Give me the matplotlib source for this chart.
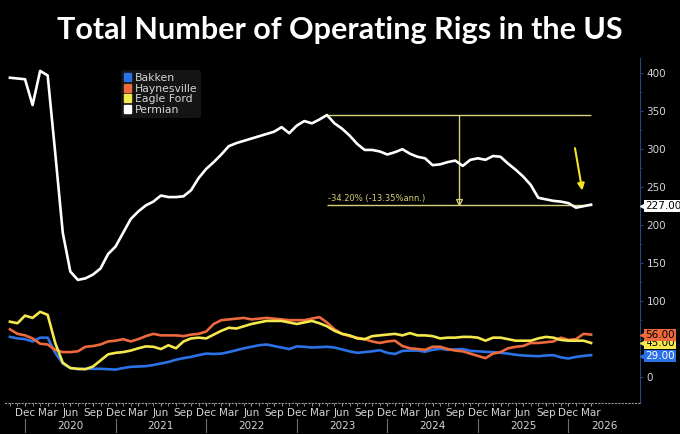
import matplotlib
matplotlib.use('Agg')
import matplotlib.pyplot as plt
from matplotlib.patches import Patch
import numpy as np

# month index: 0 = Dec 2019, data runs Oct 2019 .. Mar 2026
months = np.arange(-2, 76)

permian = [394, 393, 392, 358, 403, 397, 295, 190, 139, 128,
           130, 135, 143, 162, 172, 190, 208, 218, 226, 231,
           239, 237, 237, 238, 246, 262, 274, 283, 293, 304,
           308, 311, 314, 317, 320, 323, 329, 321, 331, 337,
           334, 339, 345, 334, 327, 318, 307, 299, 299, 297,
           293, 296, 300, 294, 290, 288, 279, 280, 283, 285,
           278, 286, 288, 286, 291, 290, 281, 273, 264, 253,
           236, 234, 232, 231, 229, 223, 225, 227]
eagle_ford = [73, 71, 81, 78, 86, 82, 45, 19, 12, 11,
              10.5, 14, 22, 30, 32, 33, 35, 38, 40.5, 40,
              37, 42, 38, 47, 51, 52, 51, 56, 61, 65,
              64, 67, 70, 72, 74, 74, 74, 72, 70, 72,
              74, 71, 67, 61, 57, 55, 51, 50, 54, 55,
              56, 57, 55, 58, 55, 55, 54, 51, 52, 52,
              53, 53, 52, 48, 52, 52, 50, 48, 48, 48,
              51, 53, 52, 49, 48, 48, 48, 45]
haynesville = [63, 57, 55, 51, 44, 43, 36, 33, 33, 34,
               40, 41, 43, 47, 48, 50, 47, 50, 54, 57,
               55, 55, 55, 54, 56, 57, 60, 70, 75, 76,
               77, 78, 76, 77, 78, 77, 76, 75, 75, 75,
               77, 79, 72, 63, 57, 54, 52, 50, 47, 45,
               47, 48, 41, 38, 37, 36, 40, 40, 37, 35,
               34, 31, 28, 25, 31, 33, 38, 40, 41, 45,
               45, 46, 47, 52, 49, 50, 57, 56]
bakken = [53, 51, 50, 47, 52, 52, 32, 18, 12, 10.5,
          11, 11, 11, 10.5, 10, 12, 13.6, 14, 14.5, 16,
          18, 20, 23, 25, 26.7, 29, 31, 30.5, 31, 33,
          35.5, 38, 40, 42, 43, 41, 39, 37, 40.5, 40,
          39, 39.5, 40, 39, 36.5, 34, 32, 33, 34, 35.5,
          32, 30.5, 34.5, 35, 35, 33.5, 36, 37.5, 36, 36.5,
          37, 34.6, 34, 33.3, 33, 32, 31, 29.5, 28.5, 28,
          27.6, 28.5, 29, 26, 24.6, 26.7, 28, 29]

month_names = ['Dec', 'Mar', 'Jun', 'Sep']
years = ['2020', '2021', '2022', '2023', '2024', '2025', '2026']
yticks = [0, 100, 150, 200, 250, 300, 350, 400]

c_bakken = '#2a72e6'
c_hay = '#ee6a3c'
c_eagle = '#f4e84c'
c_perm = '#ffffff'
c_meas = '#d8d07a'
txt = '#d4d4d4'


def main():
    fig = plt.figure(figsize=(6.8, 4.34), dpi=100, facecolor='black')
    ax = fig.add_axes([0.0074, 0.0714, 0.934, 0.795])
    ax.set_facecolor('black')

    ax.plot(months, bakken, color=c_bakken, lw=1.9, zorder=3)
    ax.plot(months, haynesville, color=c_hay, lw=1.9, zorder=3)
    ax.plot(months, eagle_ford, color=c_eagle, lw=1.9, zorder=4)
    ax.plot(months, permian, color=c_perm, lw=1.9, zorder=5)

    ax.set_xlim(-2.65, 81.5)
    ax.set_ylim(-34, 420)

    # peak (after the 2020 collapse) to latest value
    start = 20
    i_peak = start + int(np.argmax(permian[start:]))
    x0, x1 = months[i_peak], months[-1]
    top, bot = permian[i_peak], permian[-1]
    ax.hlines([top, bot], x0, x1, color=c_meas, lw=1.0, zorder=4)
    xm = (x0 + x1) / 2
    ax.vlines(xm, bot, top, color=c_meas, lw=1.0, zorder=4)
    ax.plot([xm], [bot + 3], marker='v', ms=4.5, mfc='none', mec=c_meas,
            mew=0.9, zorder=6)
    chg = (bot / top - 1) * 100
    ax.text(x0 + 0.1, bot + 2.5, '%.2f%% (-13.35%%ann.)' % chg, color=c_meas,
            fontsize=6, ha='left', va='bottom', zorder=6)
    ax.annotate('', xy=(73.9, 242), xytext=(72.8, 305),
                arrowprops=dict(arrowstyle='-|>', color='#f2e424', lw=1.5,
                                mutation_scale=10), zorder=7)

    # spines and ticks
    for s in ['top', 'left']:
        ax.spines[s].set_visible(False)
    ax.spines['right'].set_color('#27467e')
    ax.spines['bottom'].set_color('#9a9a9a')
    ax.spines['bottom'].set_linestyle((0, (1, 2)))
    ax.yaxis.tick_right()
    ax.set_yticks(yticks)
    ax.set_yticks(np.arange(0, 425, 25), minor=True)
    ax.tick_params(axis='y', which='both', colors='#27467e', labelcolor=txt,
                   labelsize=7.5, length=2.5, pad=2)
    ax.tick_params(axis='y', which='minor', length=1.5)

    qpos = np.arange(0, 76, 3)
    ax.set_xticks(qpos)
    ax.set_xticklabels([month_names[(i // 3) % 4] for i in qpos])
    ax.set_xticks(months, minor=True)
    ax.tick_params(axis='x', which='both', colors='#9a9a9a', labelcolor=txt,
                   labelsize=7.5, length=2, pad=1.5)

    trans = ax.get_xaxis_transform()
    seps = np.arange(0, 76, 12)
    for k, yr in enumerate(years):
        left = seps[k]
        right = seps[k + 1] if k + 1 < len(seps) else ax.get_xlim()[1]
        ax.text((left + right) / 2, -0.052, yr, transform=trans, color=txt,
                fontsize=7.5, ha='center', va='top')
    for s in seps:
        ax.plot([s, s], [-0.045, -0.085], transform=trans, color='#707070',
                lw=0.8, clip_on=False)

    # last-value tags on the right (value, vertical nudge, colours)
    tags = [(eagle_ford[-1], 0, c_eagle, 'black'),
            (haynesville[-1], -1, c_hay, 'black'),
            (bakken[-1], -1, c_bakken, 'white'),
            (permian[-1], -2, 'white', 'black')]
    ytrans = ax.get_yaxis_transform()
    for val, nudge, fc, tc in tags:
        ax.text(1.008, val + nudge, '%.2f' % val, transform=ytrans,
                fontsize=7.5, color=tc, ha='left', va='center', zorder=10,
                bbox=dict(boxstyle='square,pad=0.1', fc=fc, ec='none'),
                clip_on=False)
        ax.plot([1.004], [val + nudge], transform=ytrans, marker='<', ms=5,
                color=fc, clip_on=False, zorder=10)

    handles = [Patch(color=c_bakken, label='Bakken'),
               Patch(color=c_hay, label='Haynesville'),
               Patch(color=c_eagle, label='Eagle Ford'),
               Patch(color=c_perm, label='Permian')]
    leg = ax.legend(handles=handles, loc='upper left',
                    bbox_to_anchor=(0.182, 0.966), frameon=True, fontsize=7.8,
                    handlelength=0.7, handleheight=0.7, handletextpad=0.3,
                    labelspacing=0.05, borderpad=0.3, borderaxespad=0)
    leg.get_frame().set_facecolor('#141414')
    leg.get_frame().set_edgecolor('none')
    leg.get_frame().set_alpha(1)
    for t in leg.get_texts():
        t.set_color(txt)

    fig.text(0.5, 1 - 30 / 434, 'Total Number of Operating Rigs in the US',
             color='white', fontsize=22, fontweight='bold', family='Lato',
             ha='center', va='center')

    fig.savefig('out.png', dpi=100, facecolor='black')
    plt.close(fig)


if __name__ == '__main__':

    main()
